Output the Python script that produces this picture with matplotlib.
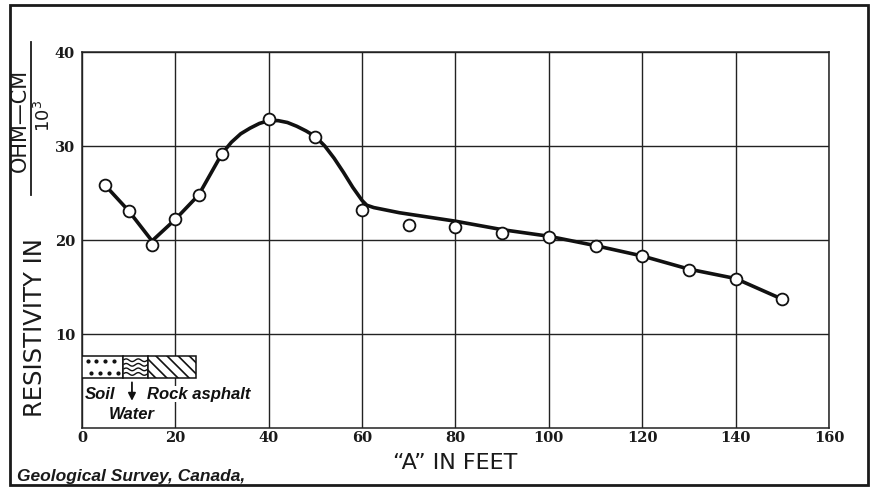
import numpy as np
import matplotlib
matplotlib.use("Agg")
import matplotlib.pyplot as plt
from matplotlib.patches import Rectangle
from matplotlib.lines import Line2D

# Measured apparent resistivity against electrode spacing "A"
spacing_ft = [5, 10, 15, 20, 25, 30, 40, 50, 60, 70, 80, 90, 100, 110, 120, 130, 140, 150]
resistivity = [25.8, 23.1, 19.5, 22.2, 24.8, 29.2, 32.9, 31.0, 23.2, 21.6,
               21.4, 20.7, 20.3, 19.4, 18.3, 16.8, 15.9, 13.7]

# Hand-faired curve through the observations
curve_x = [5, 10, 15, 20, 25, 30, 32, 34, 36, 38, 40, 42, 44, 46, 48, 50, 52, 54,
           56, 58, 60, 61, 62.5, 65, 68, 80, 90, 100, 110, 120, 130, 140, 150]
curve_y = [25.8, 23.1, 19.9, 22.2, 24.8, 29.2, 30.4, 31.3, 31.9, 32.4, 32.7, 32.7,
           32.5, 32.1, 31.6, 31.0, 30.0, 28.7, 27.2, 25.6, 24.2, 23.7, 23.45, 23.2,
           22.9, 22.0, 21.1, 20.4, 19.4, 18.3, 16.9, 15.9, 13.7]

x_ticks = [0, 20, 40, 60, 80, 100, 120, 140, 160]
y_ticks = [10, 20, 30, 40]
y_tick_labels = ["10", "20", "30", "40"]

W, H = 878, 488
fig = plt.figure(figsize=(W / 100, H / 100), dpi=100)
fig.patch.set_facecolor("white")

ax = fig.add_axes([82 / W, 1 - 428 / H, (829 - 82) / W, (428 - 52) / H])
ax.set_xlim(0, 160)
ax.set_ylim(0, 40)
ax.set_xticks(x_ticks)
ax.set_yticks(y_ticks)
ax.set_yticklabels(y_tick_labels)
ax.tick_params(length=0, pad=2)
ax.tick_params(axis="y", pad=5)
for lab in ax.get_xticklabels() + ax.get_yticklabels():
    lab.set_fontfamily("DejaVu Serif")
    lab.set_fontweight("bold")
    lab.set_fontsize(10.5)
    lab.set_color("#1a1a1a")
ax.grid(True, color="#222222", linewidth=1.0)
ax.set_axisbelow(True)
for sp in ax.spines.values():
    sp.set_color("#222222")
    sp.set_linewidth(1.1)

ax.plot(curve_x, curve_y, color="#111111", linewidth=2.6,
        solid_joinstyle="round", solid_capstyle="round", zorder=3)
ax.plot(spacing_ft, resistivity, linestyle="none", marker="o", markersize=8.5,
        markerfacecolor="white", markeredgecolor="#111111", markeredgewidth=1.3,
        zorder=4)

# Section key: soil / water / rock asphalt
y0, y1 = 5.3, 7.66
xs, xw, xr, xe = 0.0, 8.8, 14.1, 24.5
plt.rcParams["hatch.linewidth"] = 1.2
ax.add_patch(Rectangle((xs, y0), xw - xs, y1 - y0, facecolor="white",
                       edgecolor="#111111", lw=1.1, zorder=5))
ax.add_patch(Rectangle((xw, y0), xr - xw, y1 - y0, facecolor="white",
                       edgecolor="#111111", lw=1.1, zorder=5))
ax.add_patch(Rectangle((xr, y0), xe - xr, y1 - y0, facecolor="white",
                       edgecolor="#111111", hatch="\\\\\\", lw=1.1, zorder=5))
gx, gy = np.meshgrid(np.arange(1.2, 8.0, 1.9), [7.1, 5.9])
gx = gx + np.array([[0.0], [0.8]])
ax.scatter(gx.ravel(), gy.ravel(), s=4, color="#111111", zorder=6)
t = np.linspace(xw + 0.2, xr - 0.2, 60)
for base in np.linspace(y0 + 0.45, y1 - 0.45, 4):
    ax.plot(t, base + 0.14 * np.sin((t - xw) * 2 * np.pi / 2.6),
            color="#111111", lw=1.0, zorder=6)

key_font = dict(family="Liberation Sans", weight="bold", style="italic",
                fontsize=12, color="#111111", zorder=6)
bb = dict(facecolor="white", edgecolor="none", pad=0.5)
ax.text(0.6, 3.6, "Soil", ha="left", va="center", bbox=bb, **key_font)
ax.text(13.9, 3.6, "Rock asphalt", ha="left", va="center", bbox=bb, **key_font)
ax.text(5.8, 1.45, "Water", ha="left", va="center", bbox=bb, **key_font)
ax.annotate("", xy=(10.7, 2.6), xytext=(10.7, 5.15),
            arrowprops=dict(arrowstyle="-|>", color="#111111", lw=1.3,
                            mutation_scale=11), zorder=6)

# Axis titles
fig.text(455 / W, 1 - 463 / H, "\u201cA\u201d IN FEET", ha="center", va="center",
         fontsize=16, family="DejaVu Sans", color="#1a1a1a")
fig.text(35 / W, 1 - 328 / H, "RESISTIVITY IN", ha="center", va="center",
         rotation=90, fontsize=17.5, family="DejaVu Sans", color="#1a1a1a")
fig.text(20 / W, 1 - 120 / H, "OHM\u2014CM", ha="center", va="center",
         rotation=90, fontsize=15, family="DejaVu Sans", color="#1a1a1a")
fig.text(44 / W, 1 - 116 / H, r"10$^\mathregular{3}$", ha="center", va="center",
         rotation=90, fontsize=13, family="DejaVu Sans", color="#1a1a1a")
fig.add_artist(Line2D([31 / W, 31 / W], [1 - 42 / H, 1 - 195 / H],
                      transform=fig.transFigure, color="#1a1a1a", lw=1.3))

fig.text(17 / W, 1 - 476 / H, "Geological Survey, Canada,", ha="left", va="center",
         fontsize=12.5, family="Liberation Sans", weight="bold", style="italic",
         color="#1a1a1a")

# Page frame
fig.add_artist(Rectangle((10 / W, 3 / H), (868 - 10) / W, (483 - 3) / H,
                         transform=fig.transFigure, fill=False,
                         edgecolor="#1a1a1a", lw=2.0))

fig.savefig("out.png", dpi=100, facecolor="white")
